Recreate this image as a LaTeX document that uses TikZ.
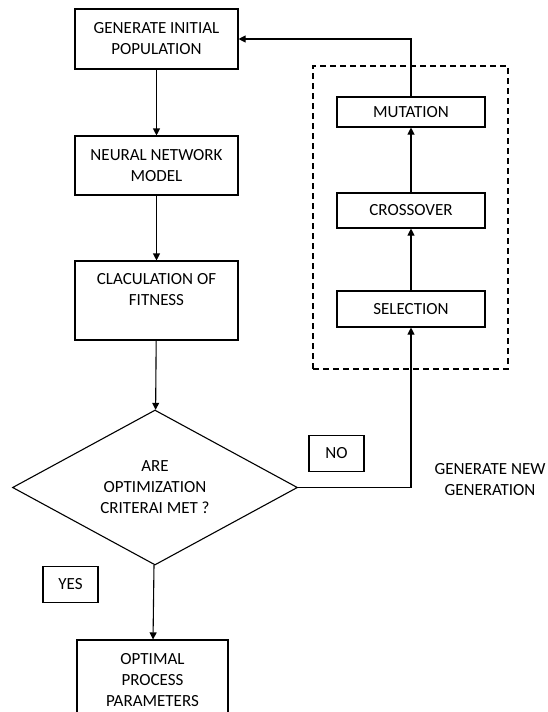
\documentclass[tikz,border=0pt]{standalone}
\usepackage{fontspec}
\setmainfont{Carlito}
\usetikzlibrary{arrows.meta, shapes.geometric}

\begin{document}
\begin{tikzpicture}[x=1pt, y=-1pt, >={Triangle[length=7pt, width=7pt]}, line width=1.1pt,
	every node/.style={font=\fontsize{17}{21}\selectfont, align=center, inner sep=0pt},
	box/.style={draw, rectangle, minimum width=163pt},
	smallbox/.style={draw, rectangle, minimum width=148pt},
	tagbox/.style={draw, rectangle, minimum width=55pt, minimum height=36pt}]
	\useasboundingbox (0,0) rectangle (548,712);
	
	% main column
	\node[box, minimum height=60pt] (init) at (156.5,39) {GENERATE INITIAL\\POPULATION};
	\node[box, minimum height=59pt] (nn) at (156.5,165.5) {NEURAL NETWORK\\MODEL};
	\node[box, minimum height=79pt, text depth=23pt] (fit) at (156.5,300.5) {CLACULATION OF\\FITNESS};
	\node[draw, diamond, aspect=1.84, minimum width=285pt, minimum height=155pt] (crit) at (155,487.5) {ARE\\OPTIMIZATION\\CRITERAI MET ?};
	\node[draw, rectangle, minimum width=151pt, minimum height=80pt] (opt) at (152.5,680) {OPTIMAL\\PROCESS\\PARAMETERS};
	
	% genetic operators
	\node[draw, dashed, dash pattern=on 6pt off 4pt, minimum width=195pt, minimum height=303pt] (ga) at (410.5,217.5) {};
	\node[smallbox, minimum height=30pt] (mut) at (411,112) {MUTATION};
	\node[smallbox, minimum height=35pt] (cross) at (411,210.5) {CROSSOVER};
	\node[smallbox, minimum height=36pt] (sel) at (411,309) {SELECTION};
	
	% labels
	\node[tagbox] (no) at (336.5,453.5) {NO};
	\node[tagbox] (yes) at (70.5,584.5) {YES};
	\node (gen) at (490,480) {GENERATE NEW\\GENERATION};
	
	% connectors
	\draw[->] (init) -- (nn);
	\draw[->] (nn) -- (fit);
	\draw[->] (fit) -- (crit);
	\draw[->] (crit) -- (opt);
	\draw[->] (crit.east) -| (sel.south);
	\draw[->] (sel) -- (cross);
	\draw[->] (cross) -- (mut);
	\draw[->] (mut.north) |- (init.east);
\end{tikzpicture}
\end{document}
